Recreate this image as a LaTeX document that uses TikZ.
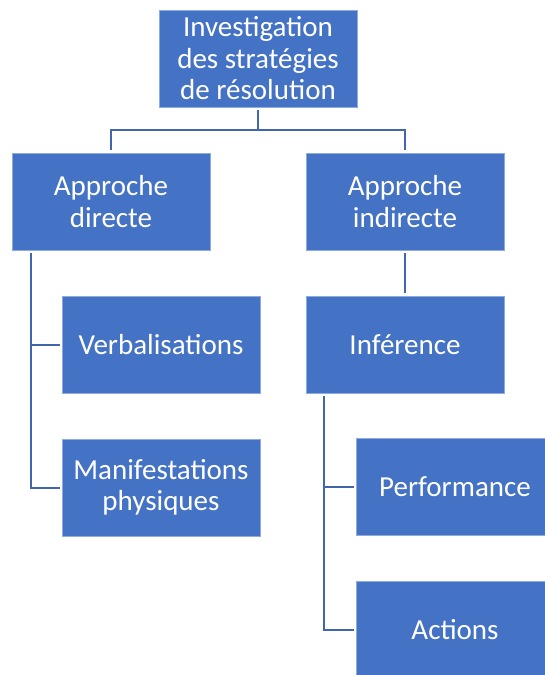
\documentclass[tikz,border=0pt]{standalone}
\usepackage{fontspec}
\setmainfont{Carlito}
\definecolor{boxblue}{HTML}{4472C4}
\definecolor{lineblue}{HTML}{4166AE}
\begin{document}
\begin{tikzpicture}[x=1bp,y=-1bp,
  box/.style={fill=boxblue,draw=boxblue!60!white,line width=0.6bp,minimum width=198bp,minimum height=97bp,
    text=white,align=center,inner sep=0pt,font=\fontsize{29bp}{31.5bp}\selectfont},
  conn/.style={draw=lineblue,line width=2bp}]
\useasboundingbox (0,0) rectangle (545,675);
\clip (0,0) rectangle (545,675);
\node[box] (top) at (258,58.5) {Investigation\\des stratégies\\de résolution};
\node[box] (dir) at (111,201.5) {Approche\\directe};
\node[box] (ind) at (405,201.5) {Approche\\indirecte};
\node[box] (verb) at (161,344.5) {Verbalisations};
\node[box] (manif) at (161,487.5) {Manifestations\\physiques};
\node[box] (inf) at (405,344.5) {Inférence};
\node[box] (perf) at (455,487) {Performance};
\node[box] (act) at (455,629.5) {Actions};
\coordinate (bus) at (258,130);
\coordinate (dl) at (31,253);
\coordinate (il) at (324,396);
\draw[conn] ([yshift=-3bp]top.south) -- (top.south |- bus);
\draw[conn] ([yshift=3bp]dir.north) |- (bus) -| ([yshift=3bp]ind.north);
\draw[conn] ([yshift=-3bp]ind.south) -- ([yshift=3bp]inf.north);
\draw[conn] (dl) |- ([xshift=-2bp]verb.west);
\draw[conn] (dl) |- ([xshift=-2bp]manif.west);
\draw[conn] (il) |- ([xshift=-2bp]perf.west);
\draw[conn] (il) |- ([xshift=-2bp]act.west);
\end{tikzpicture}
\end{document}
